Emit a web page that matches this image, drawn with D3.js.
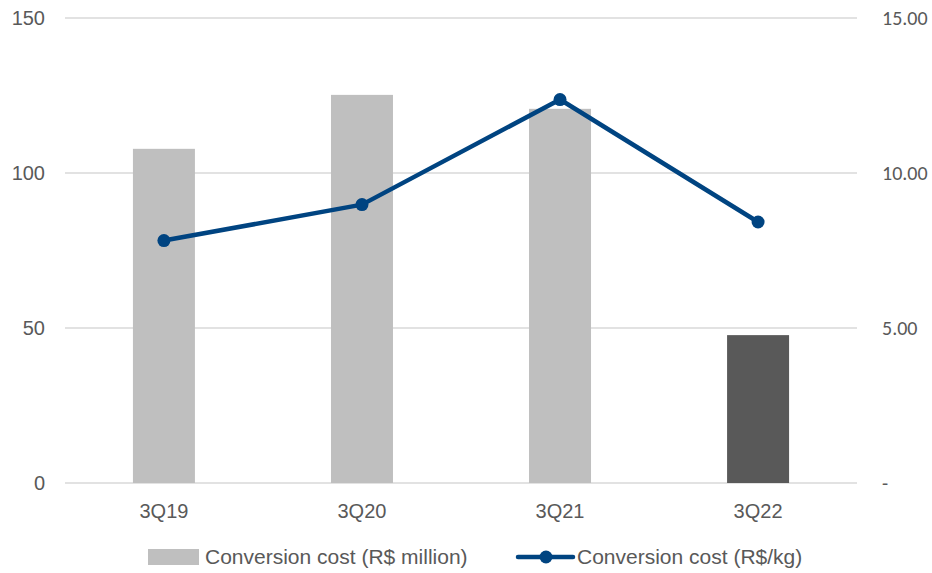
<!DOCTYPE html>
<html>
<head>
<meta charset="utf-8">
<script src="https://cdn.jsdelivr.net/npm/d3@7"></script>
<style>
  body { margin: 0; background: #fff; }
  svg { display: block; }
</style>
</head>
<body>
<svg id="chart" width="932" height="573"></svg>
<script>
// chart data
const categories = ["3Q19", "3Q20", "3Q21", "3Q22"];
const costMillion = [107.8, 125.2, 120.7, 47.7];
const costPerKg = [7.82, 8.98, 12.37, 8.42];
const barColors = ["#bfbfbf", "#bfbfbf", "#bfbfbf", "#595959"];
const leftTicks = [0, 50, 100, 150];
const rightTicks = [0, 5, 10, 15];

const svg = d3.select("#chart");
const margin = { left: 65, right: 75, top: 18, bottom: 90 };
const width = 932 - margin.left - margin.right;
const height = 573 - margin.top - margin.bottom;

const g = svg.append("g").attr("transform", `translate(${margin.left},${margin.top})`);

const x = d3.scaleBand().domain(categories).range([0, width]).paddingInner(0.687).paddingOuter(0.343);
const yLeft = d3.scaleLinear().domain([0, 150]).range([height, 0]);
const yRight = d3.scaleLinear().domain([0, 15]).range([height, 0]);

// gridlines
g.selectAll(".grid")
    .data(leftTicks)
    .enter()
    .append("line")
    .attr("x1", 0)
    .attr("x2", width)
    .attr("y1", d => yLeft(d))
    .attr("y2", d => yLeft(d))
    .attr("stroke", "#d9d9d9")
    .attr("stroke-width", 1.5);

// bars
g.selectAll(".bar")
    .data(costMillion)
    .enter()
    .append("rect")
    .attr("x", (d, i) => x(categories[i]))
    .attr("y", d => yLeft(d))
    .attr("width", x.bandwidth())
    .attr("height", d => height - yLeft(d))
    .attr("fill", (d, i) => barColors[i]);

// left axis labels
g.selectAll(".ltick")
    .data(leftTicks)
    .enter()
    .append("text")
    .attr("x", -20)
    .attr("y", d => yLeft(d))
    .attr("dy", "0.35em")
    .attr("text-anchor", "end")
    .style("font-family", "'Liberation Sans', Arial, sans-serif")
    .style("font-size", "20px")
    .style("fill", "#595959")
    .text(d => d);

// right axis labels
g.selectAll(".rtick")
    .data(rightTicks)
    .enter()
    .append("text")
    .attr("x", width + 25)
    .attr("y", d => yRight(d))
    .attr("dy", "0.35em")
    .attr("text-anchor", "start")
    .style("font-family", "Carlito, Lato, sans-serif")
    .style("font-size", "20px")
    .style("fill", "#595959")
    .text(d => d === 0 ? "-" : d.toFixed(2));

// category labels
g.selectAll(".xtick")
    .data(categories)
    .enter()
    .append("text")
    .attr("x", d => x(d) + x.bandwidth() / 2)
    .attr("y", height + 35)
    .attr("text-anchor", "middle")
    .style("font-family", "'Liberation Sans', Arial, sans-serif")
    .style("font-size", "20px")
    .style("fill", "#595959")
    .text(d => d);

// line series
const lineColor = "#004481";
const line = d3.line()
    .x((d, i) => x(categories[i]) + x.bandwidth() / 2)
    .y(d => yRight(d));

g.append("path")
    .datum(costPerKg)
    .attr("fill", "none")
    .attr("stroke", lineColor)
    .attr("stroke-width", 4.5)
    .attr("stroke-linejoin", "round")
    .attr("d", line);

g.selectAll(".dot")
    .data(costPerKg)
    .enter()
    .append("circle")
    .attr("cx", (d, i) => x(categories[i]) + x.bandwidth() / 2)
    .attr("cy", d => yRight(d))
    .attr("r", 6.5)
    .attr("fill", lineColor);

// legend
const legend = svg.append("g").attr("transform", "translate(0,557)");
legend.append("rect")
    .attr("x", 148).attr("y", -8)
    .attr("width", 51).attr("height", 16)
    .attr("fill", "#bfbfbf");
legend.append("text")
    .attr("x", 205).attr("y", 0).attr("dy", "0.35em")
    .style("font-family", "'Liberation Sans', Arial, sans-serif")
    .style("font-size", "21px")
    .style("fill", "#595959")
    .text("Conversion cost (R$ million)");
legend.append("line")
    .attr("x1", 518).attr("x2", 573)
    .attr("y1", 0).attr("y2", 0)
    .attr("stroke", lineColor)
    .attr("stroke-width", 4.5)
    .attr("stroke-linecap", "round");
legend.append("circle")
    .attr("cx", 546).attr("cy", 0).attr("r", 6.5)
    .attr("fill", lineColor);
legend.append("text")
    .attr("x", 577).attr("y", 0).attr("dy", "0.35em")
    .style("font-family", "'Liberation Sans', Arial, sans-serif")
    .style("font-size", "21px")
    .style("fill", "#595959")
    .text("Conversion cost (R$/kg)");
</script>
</body>
</html>
